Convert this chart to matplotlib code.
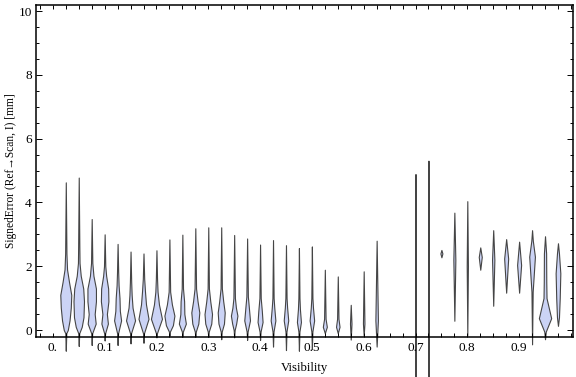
import numpy as np
import matplotlib
matplotlib.use("Agg")
import matplotlib.pyplot as plt
from matplotlib.ticker import FixedLocator, MultipleLocator

plt.rcParams["font.family"] = ["Liberation Serif", "DejaVu Serif"]
plt.rcParams["font.size"] = 9.5

# visibility bins (centre of each violin)
positions = [0.025, 0.05, 0.075, 0.1, 0.125, 0.15, 0.175, 0.2, 0.225, 0.25,
             0.275, 0.3, 0.325, 0.35, 0.375, 0.4, 0.425, 0.45, 0.475, 0.5,
             0.525, 0.55, 0.575, 0.6, 0.625, 0.7, 0.725, 0.75, 0.775, 0.8,
             0.825, 0.85, 0.875, 0.9, 0.925, 0.95, 0.975]

# lowest / highest signed error in each bin [mm]
y_min = [-0.65, -0.50, -0.47, -0.33, -0.47, -0.42, -0.40, -0.23, -0.18, -0.21,
         -0.21, -0.21, -0.29, -0.23, -0.31, -0.31, -0.52, -0.63, -0.65, -0.60,
         -0.10, -0.10, -0.30, -0.18, -0.52, -1.60, -1.60, 2.28, 0.29, -0.16,
         1.89, 0.76, 1.17, 1.17, -0.45, -0.29, 0.13]
y_max = [4.63, 4.78, 3.48, 3.00, 2.70, 2.46, 2.40, 2.50, 2.84, 2.99,
         3.19, 3.22, 3.22, 2.98, 2.87, 2.68, 2.82, 2.66, 2.57, 2.62,
         1.89, 1.68, 0.79, 1.84, 2.80, 4.89, 5.31, 2.51, 3.68, 4.04,
         2.59, 3.13, 2.85, 2.77, 3.13, 2.94, 2.72]

# smoothed density profile of each bin: (error, relative density)
density = [
    [(-0.1, 1.0), (0.0, 4), (0.3, 7.5), (0.7, 10), (1.1, 11), (1.5, 6.5), (1.9, 2.5), (2.4, 1.3)],
    [(-0.1, 1.0), (0.1, 6), (0.4, 9.5), (0.9, 10.5), (1.3, 9), (1.7, 4), (2.1, 1.6), (2.6, 1.2)],
    [(-0.1, 1), (0.2, 8), (0.5, 6), (0.9, 8.5), (1.3, 8.5), (1.7, 3.5), (2.1, 1.3)],
    [(-0.1, 1), (0.2, 6.5), (0.5, 4.5), (0.9, 7.5), (1.3, 7), (1.7, 3), (2.0, 1.3)],
    [(-0.1, 1), (0.3, 7), (0.6, 4.5), (1.0, 3.8), (1.4, 2), (1.8, 1.2)],
    [(-0.1, 1), (0.3, 9), (0.7, 4), (1.1, 2.2), (1.5, 1.3)],
    [(-0.1, 1), (0.35, 10), (0.8, 5), (1.2, 3), (1.6, 1.4)],
    [(-0.1, 1), (0.35, 11), (0.8, 5), (1.2, 2.2), (1.6, 1.2)],
    [(-0.05, 1), (0.15, 7), (0.45, 10), (0.8, 5), (1.2, 1.5)],
    [(-0.05, 1), (0.2, 7), (0.5, 4), (0.9, 3.5), (1.3, 1.3)],
    [(-0.05, 1), (0.2, 6), (0.55, 8), (0.9, 4.5), (1.3, 1.5)],
    [(-0.05, 1), (0.2, 6), (0.5, 7.5), (0.9, 4), (1.3, 1.3)],
    [(-0.05, 1), (0.2, 5.5), (0.55, 7), (0.9, 4), (1.3, 1.3)],
    [(0.0, 1), (0.2, 4), (0.45, 6.5), (0.7, 3.5), (1.0, 1.5)],
    [(-0.05, 1), (0.3, 5.7), (0.7, 3.5), (1.05, 1.5)],
    [(-0.05, 1), (0.25, 5), (0.6, 3.5), (1.0, 1.3)],
    [(-0.05, 1), (0.3, 4.7), (0.7, 2.5), (1.0, 1.2)],
    [(-0.05, 1), (0.3, 4.5), (0.7, 2.3), (1.0, 1.2)],
    [(-0.05, 1), (0.25, 4), (0.65, 2), (1.0, 1.1)],
    [(-0.05, 1), (0.3, 4.5), (0.7, 2.2), (1.0, 1.1)],
    [(0.1, 4), (0.35, 1.5)],
    [(0.1, 3.5), (0.35, 1.4)],
    [(0.2, 1.5)],
    [(0.2, 1.5)],
    [(0.3, 2.5)],
    [(1.5, 0.2)],
    [(1.5, 0.2)],
    [(2.4, 2)],
    [(2.2, 2)],
    [(2.0, 1.2)],
    [(2.29, 3)],
    [(2.2, 2.3)],
    [(2.24, 4)],
    [(2.04, 4)],
    [(1.2, 1.2), (2.3, 5.7), (2.8, 1.5)],
    [(-0.05, 1.5), (0.37, 12.3), (1.0, 3), (1.5, 2.5), (2.4, 2.2)],
    [(0.4, 2), (1.0, 3.5), (1.78, 4.7), (2.4, 2)],
]

x_ticks = [0.0, 0.1, 0.2, 0.3, 0.4, 0.5, 0.6, 0.7, 0.8, 0.9]
x_labels = ["0.", "0.1", "0.2", "0.3", "0.4", "0.5", "0.6", "0.7", "0.8", "0.9"]
y_ticks = [0, 2, 4, 6, 8, 10]

# one density unit -> width in data units
unit = 1 / 518

stats = []
widths = []
for lo, hi, prof in zip(y_min, y_max, density):
    ys = [lo] + [p[0] for p in prof] + [hi]
    ws = [0.0] + [p[1] for p in prof] + [0.0]
    stats.append({"coords": np.array(ys), "vals": np.array(ws),
                  "mean": np.mean(ys), "median": np.median(ys),
                  "min": lo, "max": hi})
    widths.append(max(ws) * unit)

fig = plt.figure(figsize=(5.76, 3.77), dpi=100)
ax = fig.add_axes([36 / 576, 1 - 336.7 / 377, 537 / 576, 332 / 377])

parts = ax.violin(stats, positions=positions, widths=widths,
                  showextrema=False, showmeans=False, showmedians=False)
for body in parts["bodies"]:
    body.set_facecolor("#cbd3f5")
    body.set_edgecolor("#454545")
    body.set_alpha(1)
    body.set_linewidth(0.8)
    body.set_clip_on(False)

ax.set_xlim(-0.0325, 1.004)
ax.set_ylim(-0.21, 10.2)

ax.xaxis.set_major_locator(FixedLocator(x_ticks))
ax.set_xticklabels(x_labels)
ax.xaxis.set_minor_locator(MultipleLocator(0.025))
ax.set_yticks(y_ticks)
ax.set_yticklabels([str(t) for t in y_ticks])
ax.yaxis.set_minor_locator(MultipleLocator(0.5))

ax.tick_params(axis="both", which="both", direction="in", top=True, right=True,
               width=0.7, colors="black")
ax.tick_params(axis="x", which="both", length=3, pad=4)
ax.tick_params(axis="y", which="major", length=4, pad=3)
ax.tick_params(axis="y", which="minor", length=2.2)
for sp in ax.spines.values():
    sp.set_linewidth(1.1)

ax.set_xlabel("Visibility", fontsize=9.2)
ax.set_ylabel("SignedError (Ref\u2192Scan, I) [mm]", fontsize=8.3)
ax.xaxis.set_label_coords(0.5, -0.075)
ax.yaxis.set_label_coords(-0.036, 0.5)

fig.savefig("out.png", dpi=100)
